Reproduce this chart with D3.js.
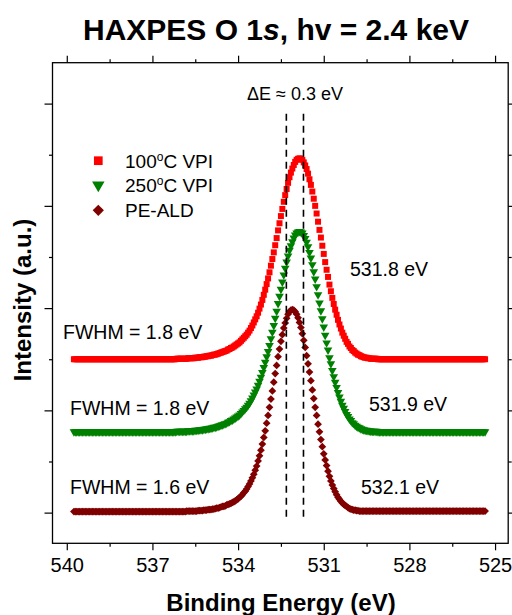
<!DOCTYPE html>
<html>
<head>
<meta charset="utf-8">
<script src="https://cdn.jsdelivr.net/npm/d3@7"></script>
<style>
    html, body { margin: 0; padding: 0; background: #ffffff; }
    svg { display: block; font-family: 'Liberation Sans', Arial, sans-serif; }
</style>
</head>
<body>
<script>

// Binding energy grid of the scans (eV), from high to low
var energy_start = 539.75;
var energy_step = 0.05;

// Normalised O 1s intensities, one value per grid point (289 points)
var vpi_100 = [
    0, 0, 0, 0, 0, 0, 0, 0, 0, 0, 0, 0, 0, 0, 0, 0, 0, 0,
    0, 0, 0, 0, 0, 0, 0, 0, 0, 0, 0, 0, 0, 0, 0, 0, 0, 0,
    0, 0, 0, 0, 0, 0, 0, 0, 0, 0, 0, 0, 0, 0, 0, 0, 0, 0,
    0, 0, 0, 0, 0, 0, 0, 0, 0, 0, 0, 0, 0, 0, 0, 0, 0, 0,
    1, 1, 1, 1, 1, 1, 1,
    1, 2, 2, 2, 2, 2, 3, 3, 3, 4, 4, 4, 5, 5, 6, 6, 7, 7, 8, 9, 9, 10, 11, 12, 13, 14, 15, 16, 17, 19,
    20, 22, 23, 25, 27, 29, 31, 33, 36, 39, 42, 45, 48, 52, 56, 61, 66, 72, 78, 84, 91, 99, 107, 116, 126,
    136, 147, 158, 170, 183, 196, 209, 223, 237, 252, 266, 280, 294, 308, 321, 333, 345, 356, 365, 373,
    380, 386, 390, 392,
    393,
    392, 390, 385, 379, 372, 363, 352, 341, 328, 314, 300, 285, 269, 253, 238, 222, 206, 190, 175, 161,
    146, 133, 120, 108, 97, 87, 77, 68, 60, 52, 46, 40, 34, 30, 25, 22, 18, 16, 13, 11,
    9, 8, 6, 5, 4, 3, 3, 2, 2, 1, 1, 1, 1, 1,
    0, 0, 0, 0, 0, 0, 0, 0, 0, 0, 0, 0, 0, 0, 0, 0, 0, 0,
    0, 0, 0, 0, 0, 0, 0, 0, 0, 0, 0, 0, 0, 0, 0, 0, 0, 0,
    0, 0, 0, 0, 0, 0, 0, 0, 0, 0, 0, 0, 0, 0, 0, 0, 0, 0,
    0, 0, 0, 0, 0, 0, 0, 0, 0, 0, 0, 0, 0, 0, 0, 0, 0, 0,
    0, 0, 0, 0
];

var vpi_250 = [
    0, 0, 0, 0, 0, 0, 0, 0, 0, 0, 0, 0, 0, 0, 0, 0, 0, 0,
    0, 0, 0, 0, 0, 0, 0, 0, 0, 0, 0, 0, 0, 0, 0, 0, 0, 0,
    0, 0, 0, 0, 0, 0, 0, 0, 0, 0, 0, 0, 0, 0, 0, 0, 0, 0,
    0, 0, 0, 0, 0, 0, 0, 0, 0, 0, 0, 0, 0, 0, 0, 0, 0, 0,
    1, 1, 1, 1, 1, 1, 1,
    1, 2, 2, 2, 2, 2, 3, 3, 3, 4, 4, 4, 5, 5, 6, 6, 7, 7, 8, 9, 9, 10, 11, 12, 13, 14, 15, 16, 17, 19,
    20, 22, 23, 25, 27, 29, 31, 33, 36, 39, 42, 45, 48, 52, 56, 61, 66, 72, 78, 84, 91, 99, 107, 116, 126,
    136, 147, 157, 169, 182, 195, 208, 222, 236, 251, 265, 279, 293, 307, 320, 332, 344, 355, 364, 372,
    379, 385, 389, 391,
    392,
    391, 389, 384, 378, 371, 362, 351, 340, 327, 313, 299, 284, 268, 252, 237, 221, 205, 189, 174, 160,
    145, 133, 120, 108, 97, 87, 77, 68, 60, 52, 46, 40, 34, 30, 25, 22, 18, 16, 13, 11,
    9, 8, 6, 5, 4, 3, 3, 2, 2, 1, 1, 1, 1, 1,
    0, 0, 0, 0, 0, 0, 0, 0, 0, 0, 0, 0, 0, 0, 0, 0, 0, 0,
    0, 0, 0, 0, 0, 0, 0, 0, 0, 0, 0, 0, 0, 0, 0, 0, 0, 0,
    0, 0, 0, 0, 0, 0, 0, 0, 0, 0, 0, 0, 0, 0, 0, 0, 0, 0,
    0, 0, 0, 0, 0, 0, 0, 0, 0, 0, 0, 0, 0, 0, 0, 0, 0, 0,
    0, 0, 0, 0
];

var pe_ald = [
    2, 2, 2, 2, 2, 2, 2, 2, 2, 2, 2, 2, 2, 2, 2, 2, 2, 2,
    2, 2, 2, 2, 2, 2, 2, 2, 2, 2, 2, 2, 2, 2, 2, 2, 2, 2,
    2, 2, 2, 2, 2, 2, 2, 2, 2, 2, 2, 2, 2, 2, 2, 2, 2, 2,
    2, 2, 2, 2, 2, 2, 2, 2, 2, 2, 2, 2, 2, 2, 2, 2, 2, 2,
    2, 2, 2, 2, 2, 2, 2,
    3, 3, 3, 3, 3, 3, 3, 3,
    4, 4, 4, 4, 5, 5, 5, 6, 6, 6, 7, 7, 8, 9, 9, 10, 11, 12, 12, 13, 15, 16, 17, 18, 20,
    21, 23, 25, 27, 30, 32, 35, 39, 42, 46, 51, 56, 62, 68, 75, 83, 91, 101, 111, 122,
    134, 147, 160, 175, 190, 206, 222, 238, 255, 272, 288, 305, 320, 335, 348, 361, 371, 380, 388, 393,
    396,
    397,
    396, 393, 388, 381, 372, 362, 350, 337, 323, 307, 291, 275, 258, 240, 223, 206, 190, 173, 158, 143,
    129, 115, 103, 92, 81, 71, 62, 54, 47, 41, 35, 30, 26, 22, 19, 16, 14, 12, 10, 8,
    7, 6, 5, 5, 4, 4, 3, 3, 3, 3,
    3, 3, 3, 3, 3, 3, 3, 3, 3, 3, 3, 3, 3, 3, 3, 3, 3, 3,
    3, 3, 3, 3, 3, 3, 3, 3, 3, 3, 3, 3, 3, 3, 3, 3, 3, 3,
    3, 3, 3, 3, 3, 3, 3, 3, 3, 3, 3, 3, 3, 3, 3, 3, 3, 3,
    3, 3, 3, 3, 3, 3, 3, 3, 3, 3, 3, 3, 3, 3, 3, 3, 3, 3,
    3, 3, 3, 3, 3, 3, 3, 3, 3, 3, 3, 3, 3
];

// Vertical offsets used to stack the spectra
var stack_offsets = [ 300, 158, 0 ];

var legend_labels = [ '100\u00b0C VPI', '250\u00b0C VPI', 'PE-ALD' ];
var fwhm_labels = [ 'FWHM = 1.8 eV', 'FWHM = 1.8 eV', 'FWHM = 1.6 eV' ];
var peak_labels = [ '531.8 eV', '531.9 eV', '532.1 eV' ];

// Peak position markers (eV) and the intensity span they cover
var delta_lines = [ 532.31, 531.71 ];
var delta_span = [ -18, 780 ];
var delta_label = '\u0394E \u2248 0.3 eV';

var x_major = [ 540, 537, 534, 531, 528, 525 ];
var x_minor = [ 538.5, 535.5, 532.5, 529.5, 526.5 ];
var y_major = [ 0, 200, 400, 600, 800 ];
var y_minor = [ 100, 300, 500, 700 ];

var series_values = [ vpi_100, vpi_250, pe_ald ];
var series_colors = [ '#ff0000', '#008000', '#800000' ];

var _width = 512;
var _height = 615;
var _left = 52.5;
var _right = 508.2;
var _top = 62.7;
var _bottom = 543.3;

var _svg = d3.select( 'body' ).append( 'svg' )
    .attr( 'width', _width )
    .attr( 'height', _height );

var x = d3.scaleLinear().domain( [ 540.5, 524.54 ] ).range( [ _left, _right ] );
var y = d3.scaleLinear().domain( [ -60, 880 ] ).range( [ _bottom, _top ] );

draw_axes();
draw_series();
draw_delta();
draw_legend();
draw_labels();

function marker ( index, large ) {

    var k = large ? 2.1 : 1;
    if ( index === 0 ) return { d: d3.symbol( d3.symbolSquare, 36 * k )(), rotate: 0 };
    if ( index === 1 ) return { d: d3.symbol( d3.symbolTriangle, 32 * k )(), rotate: 180 };
    return { d: d3.symbol( d3.symbolSquare, 30 * k )(), rotate: 45 };

}

function draw_axes () {

    var bottom_major = _svg.append( 'g' )
        .attr( 'transform', 'translate(0,' + _bottom + ')' )
        .call( d3.axisBottom( x ).tickValues( x_major ).tickSize( 7 ).tickSizeOuter( 0 ).tickFormat( d3.format( 'd' ) ) );

    bottom_major.selectAll( 'text' )
        .attr( 'y', 15 )
        .style( 'font-size', '20px' )
        .style( 'font-family', "'Liberation Sans', Arial, sans-serif" )
        .attr( 'fill', '#000' );

    var axes = [
        _svg.append( 'g' ).attr( 'transform', 'translate(0,' + _bottom + ')' )
            .call( d3.axisBottom( x ).tickValues( x_minor ).tickSize( 3.5 ).tickSizeOuter( 0 ).tickFormat( '' ) ),
        _svg.append( 'g' ).attr( 'transform', 'translate(0,' + _top + ')' )
            .call( d3.axisTop( x ).tickValues( x_major ).tickSize( 7 ).tickSizeOuter( 0 ).tickFormat( '' ) ),
        _svg.append( 'g' ).attr( 'transform', 'translate(0,' + _top + ')' )
            .call( d3.axisTop( x ).tickValues( x_minor ).tickSize( 3.5 ).tickSizeOuter( 0 ).tickFormat( '' ) ),
        _svg.append( 'g' ).attr( 'transform', 'translate(' + _left + ',0)' )
            .call( d3.axisLeft( y ).tickValues( y_major ).tickSize( 8 ).tickSizeOuter( 0 ).tickFormat( '' ) ),
        _svg.append( 'g' ).attr( 'transform', 'translate(' + _left + ',0)' )
            .call( d3.axisLeft( y ).tickValues( y_minor ).tickSize( 3.5 ).tickSizeOuter( 0 ).tickFormat( '' ) ),
        _svg.append( 'g' ).attr( 'transform', 'translate(' + _right + ',0)' )
            .call( d3.axisRight( y ).tickValues( y_major ).tickSize( 8 ).tickSizeOuter( 0 ).tickFormat( '' ) ),
        _svg.append( 'g' ).attr( 'transform', 'translate(' + _right + ',0)' )
            .call( d3.axisRight( y ).tickValues( y_minor ).tickSize( 3.5 ).tickSizeOuter( 0 ).tickFormat( '' ) ),
        bottom_major
    ];

    axes.forEach( function ( a ) {
        a.select( '.domain' ).remove();
        a.selectAll( 'line' ).attr( 'stroke', '#000' ).attr( 'stroke-width', 1.2 );
    });

    _svg.append( 'rect' )
        .attr( 'x', _left )
        .attr( 'y', _top )
        .attr( 'width', _right - _left )
        .attr( 'height', _bottom - _top )
        .attr( 'fill', 'none' )
        .attr( 'stroke', '#000' )
        .attr( 'stroke-width', 1.3 );

}

function draw_series () {

    series_values.forEach( function ( values, s ) {

        var m = marker( s, false );
        var offset = stack_offsets[ s ];

        _svg.append( 'g' )
            .attr( 'fill', series_colors[ s ] )
            .selectAll( 'path' )
            .data( values )
            .join( 'path' )
            .attr( 'd', m.d )
            .attr( 'transform', function ( d, i ) {
                var e = energy_start - i * energy_step;
                return 'translate(' + x( e ) + ',' + y( d + offset ) + ') rotate(' + m.rotate + ')';
            });

    });

}

function draw_delta () {

    _svg.append( 'g' )
        .selectAll( 'line' )
        .data( delta_lines )
        .join( 'line' )
        .attr( 'x1', function ( d ) { return x( d ); } )
        .attr( 'x2', function ( d ) { return x( d ); } )
        .attr( 'y1', y( delta_span[ 1 ] ) )
        .attr( 'y2', y( delta_span[ 0 ] ) )
        .attr( 'stroke', '#000' )
        .attr( 'stroke-width', 1.6 )
        .attr( 'stroke-dasharray', '7,5' );

    _svg.append( 'text' )
        .attr( 'x', 295 )
        .attr( 'y', 100 )
        .attr( 'text-anchor', 'middle' )
        .style( 'font-size', '18px' )
        .text( delta_label );

}

function draw_legend () {

    var rows = [ 160.7, 185, 210.3 ];

    legend_labels.forEach( function ( label, s ) {

        var m = marker( s, true );

        _svg.append( 'path' )
            .attr( 'd', m.d )
            .attr( 'fill', series_colors[ s ] )
            .attr( 'transform', 'translate(98.3,' + rows[ s ] + ') rotate(' + m.rotate + ')' );

        var t = _svg.append( 'text' )
            .attr( 'x', 125 )
            .attr( 'y', rows[ s ] + 6.8 )
            .style( 'font-size', '19px' );

        var parts = label.split( '\u00b0' );
        t.append( 'tspan' ).text( parts[ 0 ] );
        if ( parts.length > 1 ) {
            t.append( 'tspan' ).attr( 'dy', -7 ).style( 'font-size', '12px' ).text( 'o' );
            t.append( 'tspan' ).attr( 'dy', 7 ).text( parts[ 1 ] );
        }

    });

}

function draw_labels () {

    var title = _svg.append( 'text' )
        .attr( 'x', 276 )
        .attr( 'y', 40 )
        .attr( 'text-anchor', 'middle' )
        .style( 'font-size', '30px' )
        .style( 'font-weight', 'bold' );

    title.append( 'tspan' ).text( 'HAXPES O 1' );
    title.append( 'tspan' ).style( 'font-style', 'italic' ).text( 's' );
    title.append( 'tspan' ).text( ', hv = 2.4 keV' );

    var fwhm_pos = [ [ 63, 339 ], [ 70, 415 ], [ 70, 494 ] ];
    var peak_pos = [ [ 350, 276 ], [ 369, 411 ], [ 361, 494 ] ];

    fwhm_labels.forEach( function ( label, s ) {
        _svg.append( 'text' )
            .attr( 'x', fwhm_pos[ s ][ 0 ] )
            .attr( 'y', fwhm_pos[ s ][ 1 ] )
            .style( 'font-size', '19.5px' )
            .text( label );
    });

    peak_labels.forEach( function ( label, s ) {
        _svg.append( 'text' )
            .attr( 'x', peak_pos[ s ][ 0 ] )
            .attr( 'y', peak_pos[ s ][ 1 ] )
            .style( 'font-size', '19.5px' )
            .text( label );
    });

    _svg.append( 'text' )
        .attr( 'x', 281 )
        .attr( 'y', 611 )
        .attr( 'text-anchor', 'middle' )
        .style( 'font-size', '24px' )
        .style( 'font-weight', 'bold' )
        .text( 'Binding Energy (eV)' );

    _svg.append( 'text' )
        .attr( 'transform', 'translate(31,300) rotate(-90)' )
        .attr( 'text-anchor', 'middle' )
        .style( 'font-size', '24px' )
        .style( 'font-weight', 'bold' )
        .text( 'Intensity (a.u.)' );

}

</script>
</body>
</html>
